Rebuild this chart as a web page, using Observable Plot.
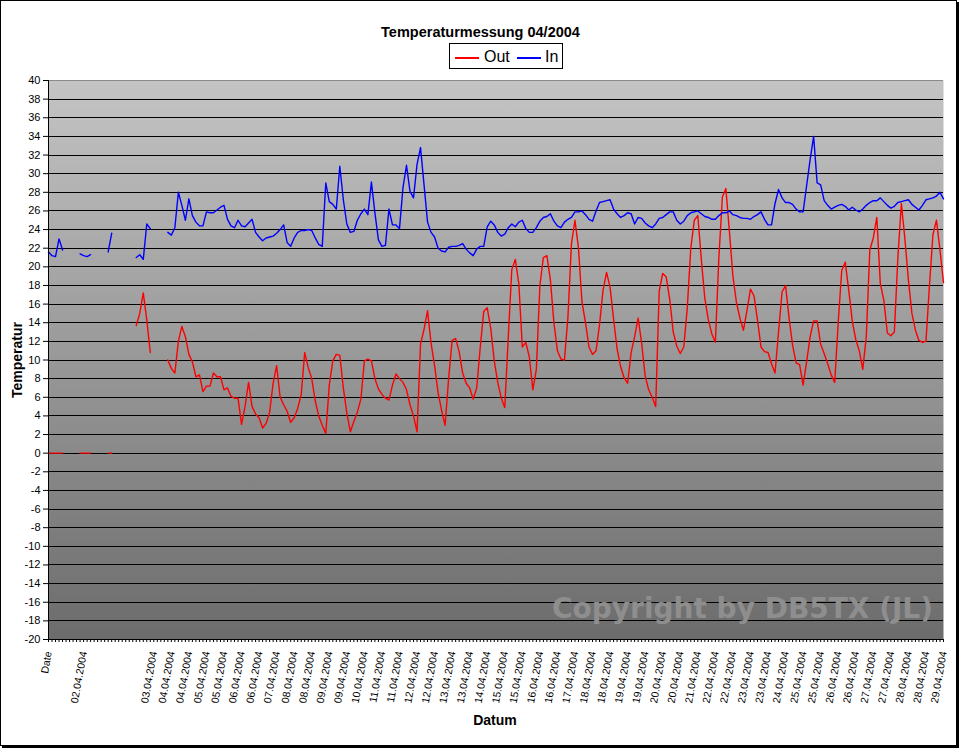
<!DOCTYPE html>
<html>
<head>
<meta charset="utf-8">
<script src="https://cdn.jsdelivr.net/npm/d3@7"></script>
<script src="https://cdn.jsdelivr.net/npm/@observablehq/plot@0.6"></script>
<style>
  body { margin: 0; background: #fff; font-family: "Liberation Sans", Arial, sans-serif; }
  #chart { position: relative; width: 961px; height: 749px; overflow: hidden; }
  #frame { position: absolute; left: 0; top: 0; width: 955px; height: 744px; border: 1px solid #000; box-shadow: 2px 2px 0 #000; }
  #plotwrap { position: absolute; left: 0; top: 0; }
  .abs { position: absolute; white-space: nowrap; line-height: 1; color: #000; }
  #title { left: 0; width: 961px; top: 25px; text-align: center; font-weight: bold; font-size: 14.5px; }
  #legend { position: absolute; left: 449px; top: 43px; width: 112px; height: 24px; border: 1px solid #000; background: #fff; }
  .lg-line { position: absolute; top: 13px; width: 24px; height: 1.5px; }
  .lg-text { position: absolute; top: 5px; font-size: 16px; line-height: 1; }
  #ytitle { left: 17px; top: 360px; transform: translate(-50%, -50%) rotate(-90deg); font-weight: bold; font-size: 14px; }
  #xtitle { left: 495px; top: 713px; transform: translateX(-50%); font-weight: bold; font-size: 14px; }
  #wm { left: 552px; top: 595px; font-family: "DejaVu Sans", sans-serif; font-weight: bold; font-size: 28px; color: #8e8e8e; }
</style>
</head>
<body>
<div id="chart">
  <div id="frame"></div>
  <div id="plotwrap"></div>
  <div class="abs" id="title">Temperaturmessung 04/2004</div>
  <div id="legend">
    <div class="lg-line" style="left:5px;background:#ff0000"></div>
    <span class="lg-text" style="left:34px">Out</span>
    <div class="lg-line" style="left:67px;background:#0000ff"></div>
    <span class="lg-text" style="left:95px">In</span>
  </div>
  <div class="abs" id="ytitle">Temperatur</div>
  <div class="abs" id="xtitle">Datum</div>
  <div class="abs" id="wm">Copyright by DB5TX (JL)</div>
</div>
<script>
// Category labels (one every 5 categories)
const xLabels = [
  "Date", "", "02.04.2004", "", "", "",
  "03.04.2004", "04.04.2004", "04.04.2004", "05.04.2004", "05.04.2004",
  "06.04.2004", "06.04.2004", "07.04.2004", "08.04.2004", "08.04.2004",
  "09.04.2004", "09.04.2004", "10.04.2004", "11.04.2004", "11.04.2004",
  "12.04.2004", "12.04.2004", "13.04.2004", "13.04.2004", "14.04.2004",
  "15.04.2004", "15.04.2004", "16.04.2004", "16.04.2004", "17.04.2004",
  "18.04.2004", "18.04.2004", "19.04.2004", "19.04.2004", "20.04.2004",
  "20.04.2004", "21.04.2004", "22.04.2004", "22.04.2004", "23.04.2004",
  "23.04.2004", "24.04.2004", "25.04.2004", "25.04.2004", "26.04.2004",
  "26.04.2004", "27.04.2004", "27.04.2004", "28.04.2004", "28.04.2004",
  "29.04.2004"
];
const labelStep = 5;

const yTicks = [-20,-18,-16,-14,-12,-10,-8,-6,-4,-2,0,2,4,6,8,10,12,14,16,18,20,22,24,26,28,30,32,34,36,38,40];

// "In" (blue) temperature per category
const inTemp = [
  21.6,21.2,21.1,23.0,21.8,null,null,null,null,21.4,
  21.2,21.1,21.3,null,null,null,null,21.6,23.6,null,
  null,null,null,null,null,21.0,21.3,20.8,24.6,24.1,
  null,null,null,null,23.7,23.4,24.2,28.0,26.6,25.0,
  27.3,25.5,24.8,24.4,24.4,25.9,25.8,25.8,26.1,26.4,
  26.6,25.1,24.4,24.2,25.0,24.4,24.3,24.7,25.1,23.7,
  23.2,22.8,23.1,23.2,23.3,23.6,24.0,24.5,22.6,22.2,
  23.1,23.7,23.9,23.9,24.0,23.9,23.1,22.4,22.2,29.0,
  27.0,26.7,26.2,30.8,27.2,24.6,23.7,23.8,25.0,25.7,
  26.2,25.6,29.1,25.8,22.9,22.2,22.3,26.2,24.5,24.5,
  24.1,28.5,30.9,28.1,27.4,31.0,32.8,28.8,24.8,23.7,
  23.2,22.0,21.7,21.6,22.1,22.2,22.2,22.3,22.5,21.9,
  21.5,21.2,21.9,22.2,22.2,24.3,24.9,24.5,23.7,23.3,
  23.5,24.2,24.6,24.3,24.8,25.0,24.1,23.7,23.7,24.2,
  24.9,25.3,25.4,25.7,24.9,24.4,24.2,24.8,25.1,25.3,
  25.9,25.9,26.0,25.6,25.1,24.9,26.0,26.9,27.0,27.1,
  27.2,26.2,25.7,25.3,25.5,25.8,25.7,24.6,25.3,25.2,
  24.7,24.4,24.2,24.6,25.2,25.3,25.6,25.9,25.9,25.0,
  24.6,24.9,25.5,25.8,25.9,26.0,25.7,25.4,25.3,25.1,
  25.1,25.5,25.8,25.8,26.0,25.6,25.5,25.3,25.2,25.2,
  25.1,25.4,25.6,25.9,25.1,24.5,24.5,26.8,28.3,27.4,
  26.9,26.9,26.7,26.2,25.9,25.9,28.7,31.5,34.0,29.0,
  28.8,27.1,26.6,26.2,26.4,26.6,26.7,26.5,26.1,26.4,
  26.1,25.9,26.2,26.6,26.9,27.1,27.1,27.4,27.0,26.6,
  26.3,26.5,26.9,27.0,27.1,27.2,26.7,26.4,26.1,26.6,
  27.2,27.3,27.4,27.6,28.0,27.3
];

// "Out" (red) temperature per category
const outTemp = [
  0,0,0,0,0,null,null,null,null,0,
  0,0,0,null,null,null,null,0,0,null,
  null,null,null,null,null,13.7,15.0,17.2,14.3,10.8,
  null,null,null,null,10.0,9.1,8.6,12.0,13.6,12.5,
  10.6,9.8,8.2,8.4,6.6,7.2,7.2,8.6,8.2,8.2,
  6.8,7.0,6.1,5.9,5.9,3.1,5.0,7.6,5.0,4.2,
  3.8,2.7,3.2,4.4,7.5,9.4,6.0,5.2,4.5,3.3,
  3.8,4.8,6.3,10.8,9.2,8.0,5.6,4.0,3.0,2.1,
  7.3,9.9,10.6,10.5,7.0,4.3,2.3,3.4,4.4,5.8,
  9.9,10.1,9.9,8.0,6.9,6.3,5.9,5.7,7.3,8.5,
  8.0,7.6,6.8,5.2,4.0,2.3,11.7,13.3,15.3,11.8,
  9.4,6.5,4.6,3.0,8.0,12.1,12.3,10.9,8.6,7.5,
  7.0,5.8,7.0,11.3,15.2,15.6,13.4,9.9,7.6,5.9,
  4.9,12.5,19.7,20.8,18.2,11.4,11.9,10.3,6.8,9.0,
  18.0,21.0,21.2,18.6,14.0,11.0,10.1,10.0,14.6,22.5,
  25.0,22.0,16.2,14.0,11.4,10.6,11.0,13.8,17.5,19.4,
  17.8,14.4,11.2,9.3,8.1,7.5,10.8,12.5,14.5,11.8,
  8.3,6.8,6.0,5.0,17.4,19.3,18.9,16.5,13.0,11.5,
  10.7,11.4,15.6,22.0,25.0,25.5,20.8,16.6,14.3,12.8,
  11.9,21.0,27.5,28.4,23.8,19.0,16.2,14.5,13.2,15.3,
  17.6,16.9,14.3,11.4,10.9,10.8,9.6,8.6,13.0,17.3,
  18.0,14.5,11.6,9.7,9.5,7.3,9.8,12.5,14.2,14.2,
  11.7,10.7,9.6,8.4,7.6,14.0,19.6,20.5,17.5,14.2,
  12.2,11.0,9.0,12.5,21.8,23.1,25.3,18.2,16.4,12.9,
  12.6,13.0,21.0,26.8,23.0,18.6,15.0,13.2,12.1,11.9,
  12.0,18.0,23.5,25.0,21.8,18.3
];

const N = inTemp.length;
const rows = inTemp.map((v, i) => ({i, inT: v, outT: outTemp[i]}));
const labelTicks = xLabels.map((_, j) => j * labelStep);
const gridVals = yTicks.filter(v => v > -20 && v < 40);

const plot = Plot.plot({
  width: 961,
  height: 749,
  marginLeft: 48,
  marginRight: 18,
  marginTop: 80,
  marginBottom: 110,
  style: {background: "transparent", fontFamily: "Liberation Sans, Arial, sans-serif", fontSize: "11px", color: "#000", overflow: "visible"},
  x: {type: "linear", domain: [0, N - 1]},
  y: {type: "linear", domain: [-20, 40]},
  marks: [
    Plot.frame({fill: "url(#plotbg)", stroke: "none"}),
    Plot.ruleY(gridVals, {stroke: "#000", strokeWidth: 1, shapeRendering: "crispEdges"}),
    Plot.ruleY([40], {stroke: "#8a8a8a", strokeWidth: 1, shapeRendering: "crispEdges"}),
    Plot.line(rows, {x: "i", y: "outT", stroke: "#ff0000", strokeWidth: 1.4}),
    Plot.line(rows, {x: "i", y: "inT", stroke: "#0000ff", strokeWidth: 1.4}),
    Plot.ruleY([-20], {stroke: "#000", strokeWidth: 1, shapeRendering: "crispEdges"}),
    Plot.ruleX([0], {stroke: "#000", strokeWidth: 1, shapeRendering: "crispEdges"}),
    Plot.axisY({ticks: yTicks, tickSize: 5, tickPadding: 3, tickFormat: d => String(d), label: null, fontSize: 11}),
    Plot.axisX({ticks: d3.range(0, N), tickSize: 3, tickFormat: () => "", label: null}),
    Plot.axisX({ticks: labelTicks, tickSize: 0, tickPadding: 12, tickRotate: -80, tickFormat: v => xLabels[Math.round(v / labelStep)], label: null, fontSize: 10.5})
  ]
});

const defs = d3.select(plot).insert("defs", ":first-child");
const grad = defs.append("linearGradient").attr("id", "plotbg")
  .attr("x1", 0).attr("y1", 0).attr("x2", 0).attr("y2", 1);
grad.append("stop").attr("offset", "0%").attr("stop-color", "#c4c4c4");
grad.append("stop").attr("offset", "100%").attr("stop-color", "#6c6c6c");

document.getElementById("plotwrap").appendChild(plot);
</script>
</body>
</html>
